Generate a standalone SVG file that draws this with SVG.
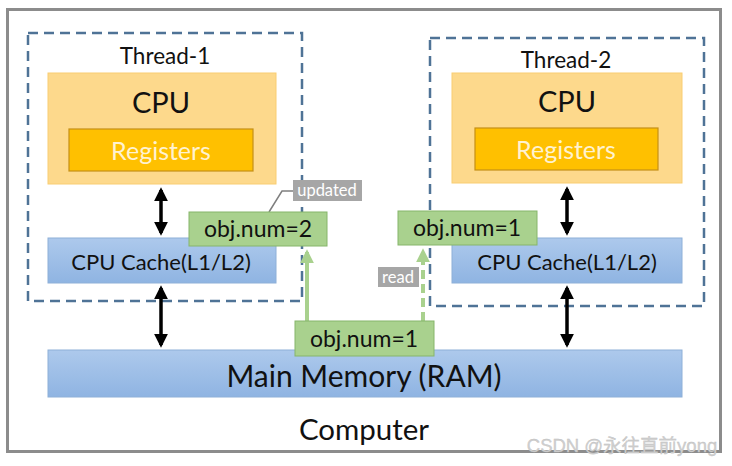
<svg xmlns="http://www.w3.org/2000/svg" width="732" height="466" viewBox="0 0 732 466">
<style>
text{font-family:Lato,"Open Sans","Liberation Sans",sans-serif;text-anchor:middle;dominant-baseline:central}
.thread{fill:none;stroke:#4f7396;stroke-width:2.5;stroke-dasharray:10 6}
.cpu{fill:#fdd98c;stroke:#f9cd72;stroke-width:1}
.reg{fill:#ffc000;stroke:#c58f16;stroke-width:1.2}
.cache{fill:url(#blue);stroke:#8eb0d8;stroke-width:1}
.val{fill:#a9d18e;stroke:#86b56a;stroke-width:1}
.tag{fill:#a6a6a6}
.bk{stroke:#000;stroke-width:3.5;marker-start:url(#ah);marker-end:url(#ah)}
.gr{stroke:#a9d18e;stroke-width:4;fill:none;marker-end:url(#gh)}
</style>
<defs>
<linearGradient id="blue" x1="0" y1="0" x2="0" y2="1">
<stop offset="0" stop-color="#adc9ec"/>
<stop offset="1" stop-color="#8fb4e2"/>
</linearGradient>
<marker id="ah" viewBox="0 0 10 10" refX="8" refY="5" markerWidth="4" markerHeight="4" orient="auto-start-reverse" markerUnits="strokeWidth">
<path d="M0,0 L10,5 L0,10 z" fill="#000"/>
</marker>
<marker id="gh" viewBox="0 0 10 10" refX="8" refY="5" markerWidth="3.5" markerHeight="3.5" orient="auto" markerUnits="strokeWidth">
<path d="M0,0 L10,5 L0,10 z" fill="#a9d18e"/>
</marker>
</defs>
<rect x="0" y="0" width="732" height="466" fill="#fff"/>
<g id="computer">
<rect x="7.5" y="9.5" width="713" height="442" fill="#fff" stroke="#8c8c8c" stroke-width="3"/>
<text x="364" y="428" font-size="29.5" fill="#111">Computer</text>
</g>
<g id="thread-1">
<rect class="thread" x="28" y="33" width="274" height="268"/>
<text x="165" y="55" font-size="22.5" fill="#111">Thread-1</text>
</g>
<g id="thread-2">
<rect class="thread" x="430" y="38" width="274" height="268"/>
<text x="566" y="59" font-size="22.5" fill="#111">Thread-2</text>
</g>
<g id="cpu-1">
<rect class="cpu" x="48" y="73" width="228" height="111"/>
<text x="161" y="101" font-size="29" fill="#111">CPU</text>
</g>
<g id="registers-1">
<rect class="reg" x="69" y="129" width="184" height="42"/>
<text x="161" y="150" font-size="25" fill="#fff2d0">Registers</text>
</g>
<g id="cpu-2">
<rect class="cpu" x="452" y="73" width="230" height="110"/>
<text x="567" y="100" font-size="29" fill="#111">CPU</text>
</g>
<g id="registers-2">
<rect class="reg" x="475" y="128" width="183" height="42"/>
<text x="566" y="149" font-size="25" fill="#fff2d0">Registers</text>
</g>
<g id="cache-1">
<rect class="cache" x="48" y="238" width="228" height="45"/>
<text x="161" y="261" font-size="22" fill="#111">CPU Cache(L1/L2)</text>
</g>
<g id="cache-2">
<rect class="cache" x="452" y="238" width="230" height="45"/>
<text x="567" y="261" font-size="22" fill="#111">CPU Cache(L1/L2)</text>
</g>
<g id="main-memory">
<rect class="cache" x="48" y="350" width="634" height="47"/>
<text x="364" y="375" font-size="30" fill="#111">Main Memory (RAM)</text>
</g>
<g id="connectors">
<line class="bk" x1="161" y1="190" x2="161" y2="233"/>
<line class="bk" x1="161" y1="288" x2="161" y2="345"/>
<line class="bk" x1="567" y1="189" x2="567" y2="233"/>
<line class="bk" x1="567" y1="288" x2="567" y2="345"/>
<line class="gr" x1="307" y1="321" x2="307" y2="252"/>
<line class="gr" x1="423" y1="321" x2="423" y2="251" stroke-dasharray="9 5"/>
<polyline points="269,212 282,191 293,191" fill="none" stroke="#7f7f7f" stroke-width="1.5"/>
</g>
<g id="val-thread-1">
<rect class="val" x="189" y="212" width="138" height="34"/>
<text x="258" y="228" font-size="23" fill="#111">obj.num=2</text>
</g>
<g id="val-thread-2">
<rect class="val" x="398" y="211" width="139" height="34"/>
<text x="467" y="227" font-size="23" fill="#111">obj.num=1</text>
</g>
<g id="val-memory">
<rect class="val" x="295" y="321" width="139" height="35"/>
<text x="364" y="338" font-size="23" fill="#111">obj.num=1</text>
</g>
<g id="updated">
<rect class="tag" x="293" y="180" width="69" height="21"/>
<text x="327" y="190" font-size="16.5" fill="#fff">updated</text>
</g>
<g id="read">
<rect class="tag" x="378" y="267" width="41" height="20"/>
<text x="398" y="276.5" font-size="16.5" fill="#fff">read</text>
</g>
<text x="622" y="445" font-size="18.5" fill="#d0d0d0" stroke="#bdbdbd" stroke-width="0.3" style="font-family:'Liberation Sans','Noto Sans CJK SC',sans-serif">CSDN @永往直前yong</text>
</svg>
